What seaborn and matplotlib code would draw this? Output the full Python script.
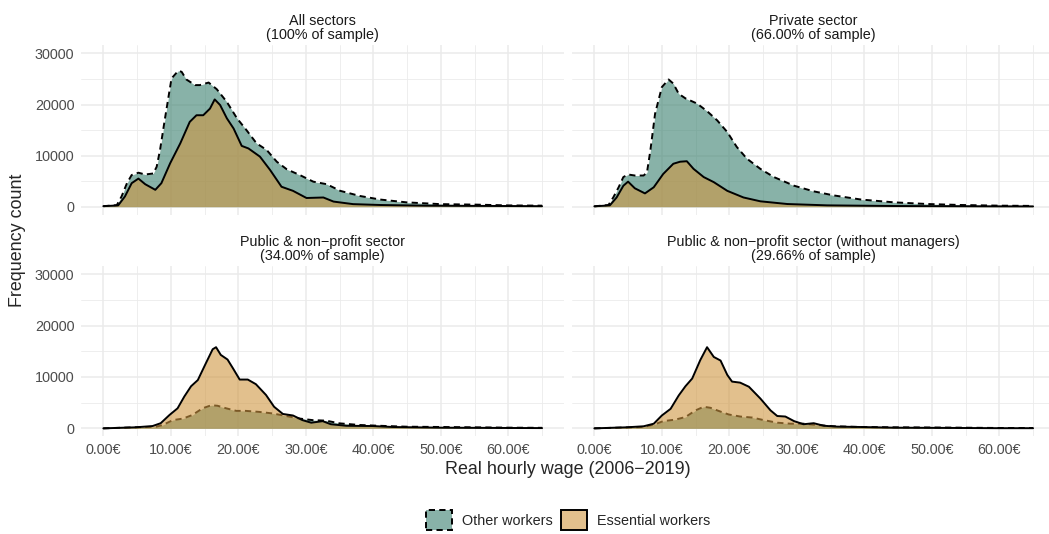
import numpy as np
import matplotlib
matplotlib.use("Agg")
import matplotlib.pyplot as plt
from matplotlib.patches import Patch
import seaborn as sns

# Wage grid points (EUR) and frequency counts
all_other_x = [0, 2.0, 2.7, 3.5, 4.2, 5.2, 6.2, 7.4, 7.9, 8.4, 9.1, 10.1, 11.1, 11.6, 12.3, 13.6, 14.3, 15.6, 16.8,
               18.3, 19.8, 21.2, 22.7, 24.2, 25.7, 27.2, 29.1, 31.1, 33.1, 35.1, 38.0, 41.0, 44.9, 49.9, 55.3, 60, 65]
all_other_y = [100, 300, 2000, 4600, 6200, 6650, 6300, 6500, 7800, 11100, 17000, 25100, 26600, 26400, 24900, 23800,
               23800, 24300, 23000, 20500, 17300, 15000, 12400, 11100, 8800, 7300, 6200, 4900, 4400, 3100, 2100, 1400,
               850, 500, 400, 250, 200]
all_ess_x = [0, 2.2, 3.2, 4.2, 5.2, 6.2, 7.7, 8.6, 9.9, 11.4, 12.8, 13.8, 14.8, 15.8, 16.5, 17.3, 18.3, 19.3, 20.5,
             21.5, 23.2, 24.7, 26.4, 28.1, 30.1, 32.6, 34.1, 37.0, 41.0, 47.9, 60, 65]
all_ess_y = [100, 250, 2000, 4600, 5500, 4400, 3300, 4600, 8500, 12400, 16600, 17900, 17900, 19200, 21000, 19900,
             17300, 15300, 11900, 11400, 9800, 7200, 3900, 3100, 1700, 1800, 1000, 500, 330, 200, 130, 100]

priv_other_x = [0, 2.1, 2.8, 3.6, 4.3, 5.0, 6.0, 7.3, 7.8, 8.3, 9.0, 10.0, 11.0, 11.7, 12.5, 13.5, 15.2, 16.7, 18.2,
                19.7, 21.1, 22.6, 24.6, 26.6, 29.6, 32.5, 35.5, 39.5, 44.4, 49.4, 54.3, 60, 65]
priv_other_y = [70, 330, 1800, 3800, 5800, 6300, 6100, 6100, 6700, 11000, 18200, 23400, 24900, 24100, 22100, 21200,
                20200, 18700, 16900, 14600, 11700, 9400, 7400, 5800, 4100, 3000, 2200, 1400, 850, 520, 330, 200, 150]
priv_ess_x = [0, 2.3, 3.3, 4.3, 5.0, 6.0, 7.5, 8.8, 10.2, 11.7, 12.7, 13.7, 14.7, 16.2, 17.7, 19.7, 22.1, 24.6, 28.6,
              34.5, 44.4, 60, 65]
priv_ess_y = [70, 260, 1800, 4100, 4900, 3600, 2600, 3800, 6400, 8400, 8800, 8900, 7400, 5800, 4800, 3100, 1800,
              1050, 520, 260, 130, 70, 60]

pub_other_x = [0, 4.8, 7.8, 8.8, 10.3, 11.8, 13.2, 14.7, 16.0, 16.9, 18.2, 19.7, 21.1, 23.1, 25.1, 27.1, 29.1, 31.0,
               33.0, 35.0, 38.0, 40.9, 44.9, 50.3, 60, 65]
pub_other_y = [0, 200, 300, 650, 1600, 1900, 2600, 3900, 4500, 4400, 3900, 3400, 3400, 3200, 2900, 2400, 1900, 1600,
               1500, 970, 650, 500, 320, 260, 130, 100]
pub_ess_x = [0, 4.8, 7.3, 8.5, 9.8, 11.0, 12.0, 13.0, 14.0, 15.2, 16.2, 16.7, 17.4, 18.4, 19.2, 20.2, 21.4, 22.6,
             24.1, 25.3, 26.6, 28.1, 29.5, 30.8, 32.5, 33.7, 36.0, 39.9, 42.9, 50.3, 60, 65]
pub_ess_y = [0, 200, 450, 1000, 2600, 3900, 6200, 8200, 9400, 12700, 15400, 15800, 14300, 13400, 11700, 9500, 9500,
             8600, 6500, 4200, 2800, 2500, 1600, 1100, 1400, 800, 500, 450, 260, 130, 70, 50]

pubnm_other_x = [0, 7.3, 9.0, 10.2, 12.0, 13.5, 15.0, 16.2, 17.2, 18.4, 19.9, 21.6, 23.4, 25.1, 27.1, 29.1, 31.0,
                 33.0, 35.5, 39.5, 44.4, 54.3, 60, 65]
pubnm_other_y = [0, 260, 800, 1400, 1700, 2200, 3500, 4200, 4000, 3400, 2700, 2300, 2100, 1600, 1100, 900, 900, 650,
                 400, 260, 200, 130, 70, 60]
pubnm_ess_x = [0, 4.8, 7.3, 8.8, 10.0, 11.3, 12.5, 13.5, 14.5, 15.7, 16.7, 17.7, 18.7, 19.7, 20.4, 21.6, 22.9, 24.6,
               26.1, 27.1, 28.3, 29.6, 31.0, 32.5, 34.0, 36.0, 39.5, 44.4, 54.3, 60, 65]
pubnm_ess_y = [0, 200, 400, 900, 2500, 3800, 6400, 8200, 9700, 13300, 15800, 13900, 13200, 10400, 9100, 8900, 8100,
               5800, 3500, 2400, 2300, 1400, 800, 1000, 500, 330, 260, 130, 70, 30, 30]

panel_titles = ["All sectors\n(100% of sample)",
                "Private sector\n(66.00% of sample)",
                "Public & non\u2212profit sector\n(34.00% of sample)",
                "Public & non\u2212profit sector (without managers)\n(29.66% of sample)"]
panel_data = [(all_other_x, all_other_y, all_ess_x, all_ess_y),
              (priv_other_x, priv_other_y, priv_ess_x, priv_ess_y),
              (pub_other_x, pub_other_y, pub_ess_x, pub_ess_y),
              (pubnm_other_x, pubnm_other_y, pubnm_ess_x, pubnm_ess_y)]

x_major = [0, 10, 20, 30, 40, 50, 60]
x_minor = [5, 15, 25, 35, 45, 55, 65]
y_major = [0, 10000, 20000, 30000]
y_minor = [5000, 15000, 25000]

group_labels = ["Other workers", "Essential workers"]
other_fill = (57 / 255, 128 / 255, 110 / 255, 0.6)
ess_fill = (207 / 255, 150 / 255, 65 / 255, 0.6)

sns.set_theme(style="white")
plt.rcParams["font.family"] = ["Liberation Sans", "DejaVu Sans"]

W, H = 1049, 534
fig = plt.figure(figsize=(W / 100, H / 100), dpi=100)

# panel boxes in pixels: left, top, right, bottom
boxes = [(81.4, 45, 564, 214.6), (572.4, 45, 1055, 214.6),
         (81.4, 265.8, 564, 436.3), (572.4, 265.8, 1055, 436.3)]

for i, (box, title, data) in enumerate(zip(boxes, panel_titles, panel_data)):
    l, t, r, b = box
    ax = fig.add_axes([l / W, 1 - b / H, (r - l) / W, (b - t) / H])
    ox, oy, ex, ey = data

    # other workers first, essential workers on top
    ax.fill_between(ox, oy, 0, color=other_fill, lw=0, zorder=2)
    sns.lineplot(x=ox, y=oy, ax=ax, color="black", lw=1.4, linestyle=(0, (3.2, 2.2)), zorder=3)
    ax.fill_between(ex, ey, 0, color=ess_fill, lw=0, zorder=4)
    sns.lineplot(x=ex, y=ey, ax=ax, color="black", lw=1.4, zorder=5)

    ax.set_xlim(-3.25, 68.25)
    ax.set_ylim(-1550, 31650)
    ax.set_xticks(x_major)
    ax.set_xticks(x_minor, minor=True)
    ax.set_yticks(y_major)
    ax.set_yticks(y_minor, minor=True)
    ax.grid(which="major", color="#EBEBEB", lw=1.1)
    ax.grid(which="minor", color="#EBEBEB", lw=0.6)
    ax.set_axisbelow(True)
    for s in ax.spines.values():
        s.set_visible(False)
    ax.tick_params(which="both", length=0, labelsize=10.4, labelcolor="#4D4D4D", pad=5)

    if i >= 2:
        ax.set_xticklabels([f"{v:.2f}€" for v in x_major])
    else:
        ax.set_xticklabels([])
    if i % 2 == 0:
        ax.set_yticklabels([str(v) for v in y_major])
    else:
        ax.set_yticklabels([])
    ax.set_xlabel("")
    ax.set_ylabel("")
    ax.set_title(title, fontsize=10.4, color="#1A1A1A", pad=4, linespacing=1.05)

fig.text(568 / W, 1 - 469 / H, "Real hourly wage (2006\u22122019)", ha="center", va="center", fontsize=12.9)
fig.text(18 / W, 1 - 240 / H, "Frequency count", ha="center", va="center", rotation=90, fontsize=12.9)

handles = [Patch(facecolor=other_fill, edgecolor="black", lw=1.4, linestyle=(0, (3.2, 2.2))),
           Patch(facecolor=ess_fill, edgecolor="black", lw=1.4)]
fig.legend(handles, group_labels, loc="center", bbox_to_anchor=(568 / W, 1 - 520 / H), ncol=2,
           frameon=False, fontsize=10.4, handlelength=1.8, handleheight=1.8,
           handletextpad=0.7, columnspacing=0.6)

plt.savefig("out.png", dpi=100)
plt.close()
